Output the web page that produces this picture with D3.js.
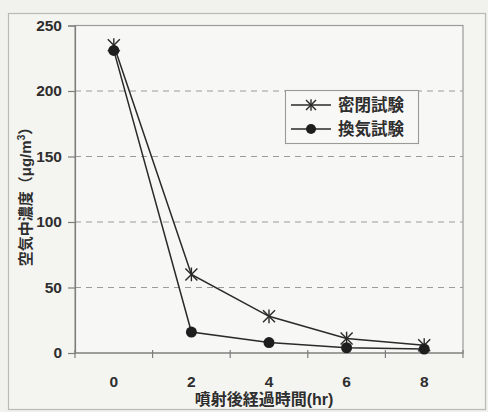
<!DOCTYPE html>
<html>
<head>
<meta charset="utf-8">
<script src="https://cdn.jsdelivr.net/npm/d3@7/dist/d3.min.js"></script>
<style>
  html, body { margin: 0; padding: 0; background: #f1f1ee; }
  svg { display: block; }
  text { font-family: "Liberation Sans", Arial, "Noto Sans CJK JP", sans-serif; font-weight: bold; fill: #2e2e2e; }
</style>
</head>
<body>
<script>
// Elapsed time after spraying (hr) and airborne concentration (µg/m³)
const hours = ["0", "2", "4", "6", "8"];
const sealedTest = [235, 60, 28, 11, 6];      // 密閉試験
const ventilatedTest = [231, 16, 8, 4, 3];    // 換気試験
const seriesNames = ["密閉試験", "換気試験"];
const yTicks = [0, 50, 100, 150, 200, 250];

const W = 488, H = 412;
const plot = { left: 75, top: 25.5, right: 463, bottom: 353 };

const svg = d3.select("body").append("svg").attr("width", W).attr("height", H);

// outer chart frame
svg.append("rect").attr("x", 8.5).attr("y", 13.5).attr("width", 477).attr("height", 396)
  .attr("fill", "#f4f4f1").attr("stroke", "#b9b9b6").attr("stroke-width", 1.2);

const x = d3.scaleBand().domain(hours).range([plot.left, plot.right]).paddingInner(0).paddingOuter(0);
const y = d3.scaleLinear().domain([0, 250]).range([plot.bottom, plot.top]);

// plot area
svg.append("rect").attr("x", plot.left).attr("y", plot.top)
  .attr("width", plot.right - plot.left).attr("height", plot.bottom - plot.top)
  .attr("fill", "#f7f7f5").attr("stroke", "#9a9a97").attr("stroke-width", 1.2);

// dashed horizontal gridlines
svg.append("g").selectAll("line").data(yTicks.filter(v => v > 0 && v < 250)).join("line")
  .attr("x1", plot.left).attr("x2", plot.right)
  .attr("y1", d => y(d)).attr("y2", d => y(d))
  .attr("stroke", "#9c9c99").attr("stroke-width", 1.1).attr("stroke-dasharray", "6,5");

// y axis
const yAxis = svg.append("g").attr("transform", `translate(${plot.left},0)`)
  .call(d3.axisLeft(y).tickValues(yTicks).tickSize(7).tickPadding(6));
yAxis.select(".domain").attr("stroke", "#7d7d7a").attr("stroke-width", 1.2);
yAxis.selectAll(".tick line").attr("stroke", "#7d7d7a").attr("stroke-width", 1.2);
yAxis.selectAll(".tick text").attr("font-size", 15.5).attr("fill", "#2e2e2e")
  .attr("font-family", "Liberation Sans, Arial, sans-serif").attr("font-weight", "bold");

// x axis: category labels centred in bands, tick marks on band boundaries
const xAxis = svg.append("g").attr("transform", `translate(0,${plot.bottom})`);
xAxis.append("line").attr("x1", plot.left).attr("x2", plot.right).attr("stroke", "#7d7d7a").attr("stroke-width", 1.2);
xAxis.selectAll("line.tk").data(hours.concat(["end"])).join("line").attr("class", "tk")
  .attr("x1", (d, i) => i < hours.length ? x(d) : x(hours[hours.length - 1]) + x.bandwidth())
  .attr("x2", (d, i) => i < hours.length ? x(d) : x(hours[hours.length - 1]) + x.bandwidth())
  .attr("y1", -3).attr("y2", 5).attr("stroke", "#7d7d7a").attr("stroke-width", 1.2);
xAxis.selectAll("text").data(hours).join("text")
  .attr("x", d => x(d) + x.bandwidth() / 2).attr("y", 34)
  .attr("text-anchor", "middle").attr("font-size", 15.5).text(d => d);

// axis titles
svg.append("text").attr("x", 264).attr("y", 405).attr("text-anchor", "middle")
  .attr("font-size", 16).text("噴射後経過時間(hr)");
svg.append("text").attr("transform", "translate(31,193) rotate(-90)").attr("text-anchor", "middle")
  .attr("font-size", 15)
  .call(t => {
    t.append("tspan").text("空気中濃度（μg/m");
    t.append("tspan").attr("dy", -6).attr("font-size", 10).text("3");
    t.append("tspan").attr("dy", 6).text("）");
  });

const cx = d => x(d) + x.bandwidth() / 2;
const line = d3.line().x(d => cx(d.h)).y(d => y(d.v));
const lineColor = "#2a2a2a";

const sealedPts = hours.map((h, i) => ({ h, v: sealedTest[i] }));
const ventPts = hours.map((h, i) => ({ h, v: ventilatedTest[i] }));

function asterisk(g, px, py, r) {
  const a = g.append("g").attr("transform", `translate(${px},${py})`)
    .attr("stroke", lineColor).attr("stroke-width", 1.4).attr("fill", "none");
  a.append("line").attr("x1", -r).attr("x2", r).attr("y1", -r).attr("y2", r);
  a.append("line").attr("x1", -r).attr("x2", r).attr("y1", r).attr("y2", -r);
  a.append("line").attr("x1", 0).attr("x2", 0).attr("y1", -r * 1.15).attr("y2", r * 1.15);
}

const marks = svg.append("g");
marks.append("path").datum(ventPts).attr("d", line)
  .attr("fill", "none").attr("stroke", lineColor).attr("stroke-width", 1.5);
marks.append("path").datum(sealedPts).attr("d", line)
  .attr("fill", "none").attr("stroke", lineColor).attr("stroke-width", 1.5);
sealedPts.forEach(d => asterisk(marks, cx(d.h), y(d.v), 6));
marks.selectAll("circle").data(ventPts).join("circle")
  .attr("cx", d => cx(d.h)).attr("cy", d => y(d.v)).attr("r", 5.5).attr("fill", "#1e1e1e");

// legend
const lg = svg.append("g");
lg.append("rect").attr("x", 285.5).attr("y", 90.5).attr("width", 133).attr("height", 53)
  .attr("fill", "#f8f8f6").attr("stroke", "#9a9a97").attr("stroke-width", 1.1);
seriesNames.forEach((name, i) => {
  const ly = 105 + i * 24;
  lg.append("line").attr("x1", 291).attr("x2", 331).attr("y1", ly).attr("y2", ly)
    .attr("stroke", lineColor).attr("stroke-width", 1.5);
  if (i === 0) asterisk(lg, 311, ly, 5);
  else lg.append("circle").attr("cx", 311).attr("cy", ly).attr("r", 5).attr("fill", "#1e1e1e");
  lg.append("text").attr("x", 338).attr("y", ly + 6).attr("font-size", 16.5).text(name);
});
</script>
</body>
</html>
